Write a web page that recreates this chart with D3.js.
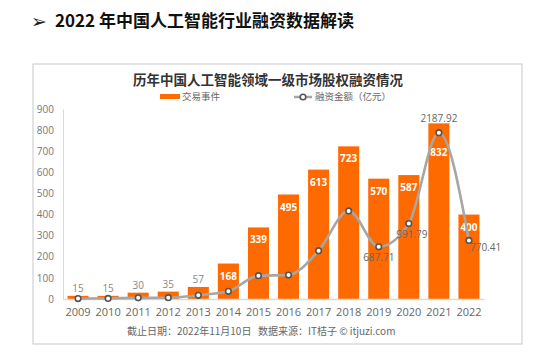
<!DOCTYPE html>
<html><head><meta charset="utf-8">
<script src="https://cdn.jsdelivr.net/npm/d3@7"></script>
<style>body{margin:0;background:#fff;} svg{display:block;font-family:"Noto Sans CJK SC","Noto Sans",sans-serif;}</style>
</head><body><svg id="c" width="550" height="360"></svg>
<script>
const years = ["2009","2010","2011","2012","2013","2014","2015","2016","2017","2018","2019","2020","2021","2022"];
const deals = [15,15,30,35,57,168,339,495,613,723,570,587,832,400];
const amounts = [5,8,15,17,49,101,307,316,636,1159,687.71,991.79,2187.92,770.41];
const amountLabels = [null,null,null,null,null,null,null,null,null,null,"687.71","991.79","2187.92","770.41"];
const yTicks = [0,100,200,300,400,500,600,700,800,900];

const svg = d3.select("#c");
const orange = "#FF6A00", gray = "#A6A6A6";

// page title
svg.append("text").attr("x",31).attr("y",28).attr("font-size",19).attr("fill","#222").attr("font-family","'DejaVu Sans',sans-serif").text("➢");
svg.append("text").attr("x",55).attr("y",27).attr("font-size",17).attr("font-weight","bold").attr("fill","#111")
  .text("2022 年中国人工智能行业融资数据解读");

// frame
svg.append("rect").attr("x",33).attr("y",64).attr("width",489).attr("height",280)
  .attr("fill","#fff").attr("stroke","#C8C8C8").attr("stroke-width",1);

svg.append("text").attr("x",268).attr("y",85).attr("text-anchor","middle").attr("font-size",13.5)
  .attr("font-weight","bold").attr("fill","#333").text("历年中国人工智能领域一级市场股权融资情况");

// legend
svg.append("rect").attr("x",160).attr("y",94).attr("width",20).attr("height",5).attr("fill",orange);
svg.append("text").attr("x",182).attr("y",100).attr("font-size",9.5).attr("fill","#666").text("交易事件");
svg.append("line").attr("x1",294).attr("x2",312).attr("y1",97).attr("y2",97).attr("stroke",gray).attr("stroke-width",2.5);
svg.append("circle").attr("cx",303).attr("cy",97).attr("r",2.8).attr("fill","#fff").attr("stroke","#555").attr("stroke-width",1.6);
svg.append("text").attr("x",315).attr("y",100).attr("font-size",9.5).attr("fill","#666").text("融资金额（亿元）");

const x = d3.scaleBand().domain(years).range([63,484]).paddingInner(0.3).paddingOuter(0.15);
const y = d3.scaleLinear().domain([0,900]).range([299,109]);
const y2 = d3.scaleLinear().domain([0,2500]).range([299,109]);

// y axis labels
const ya = svg.append("g").attr("transform","translate(63,0)")
  .call(d3.axisLeft(y).tickValues(yTicks).tickSize(0).tickPadding(9));
ya.select(".domain").attr("stroke","#D9D9D9");
ya.selectAll("text").attr("font-size",10).attr("fill","#777").attr("font-family","'Open Sans','Noto Sans',sans-serif");

// bars
svg.selectAll(".bar").data(years).join("rect")
  .attr("x",d=>x(d)).attr("width",x.bandwidth())
  .attr("y",(d,i)=>y(deals[i])).attr("height",(d,i)=>y(0)-y(deals[i]))
  .attr("fill",orange);

// x axis
const xa = svg.append("g").attr("transform","translate(0,299)")
  .call(d3.axisBottom(x).tickSize(0).tickPadding(9));
xa.select(".domain").attr("stroke","#D9D9D9").attr("stroke-width",1.5);
xa.selectAll("text").attr("font-size",11).attr("fill","#666").attr("font-family","'Open Sans','Noto Sans',sans-serif");

// bar labels
svg.selectAll(".bl").data(years).join("text")
  .attr("x",d=>x(d)+x.bandwidth()/2)
  .attr("y",(d,i)=> deals[i] < 100 ? y(deals[i]) - 4 : y(deals[i]) + (d==="2021" ? 33 : 16))
  .attr("text-anchor","middle").attr("font-size",10)
  .attr("font-weight",(d,i)=>deals[i]<100?"normal":"bold")
  .attr("fill",(d,i)=>deals[i]<100?"#888":"#fff")
  .attr("font-family","'Open Sans','Noto Sans',sans-serif")
  .text((d,i)=>deals[i]);

// line
const line = d3.line().x((d,i)=>x(years[i])+x.bandwidth()/2).y(d=>y2(d)).curve(d3.curveMonotoneX);
svg.append("path").datum(amounts).attr("d",line).attr("fill","none").attr("stroke",gray).attr("stroke-width",2.6);
svg.selectAll(".pt").data(amounts).join("circle")
  .attr("cx",(d,i)=>x(years[i])+x.bandwidth()/2).attr("cy",d=>y2(d))
  .attr("r",2.8).attr("fill","#fff").attr("stroke","#555").attr("stroke-width",1.6);

// line labels
const off = {"2019":[0,14,"middle"],"2020":[3,14,"middle"],"2021":[0,-11,"middle"],"2022":[1,11,"start"]};
svg.selectAll(".ll").data(years.filter((d,i)=>amountLabels[i])).join("text")
  .attr("x",d=>x(d)+x.bandwidth()/2+off[d][0])
  .attr("y",d=>y2(amounts[years.indexOf(d)])+off[d][1])
  .attr("text-anchor",d=>off[d][2]).attr("font-size",10).attr("fill","#666")
  .attr("font-family","'Open Sans','Noto Sans',sans-serif")
  .text(d=>amountLabels[years.indexOf(d)]);

// footer
svg.append("text").attr("x",127).attr("y",335).attr("font-size",10).attr("fill","#666")
  .text("截止日期：2022年11月10日");
svg.append("text").attr("x",258).attr("y",335).attr("font-size",10).attr("fill","#666")
  .text("数据来源：IT桔子 © itjuzi.com");
</script></body></html>
